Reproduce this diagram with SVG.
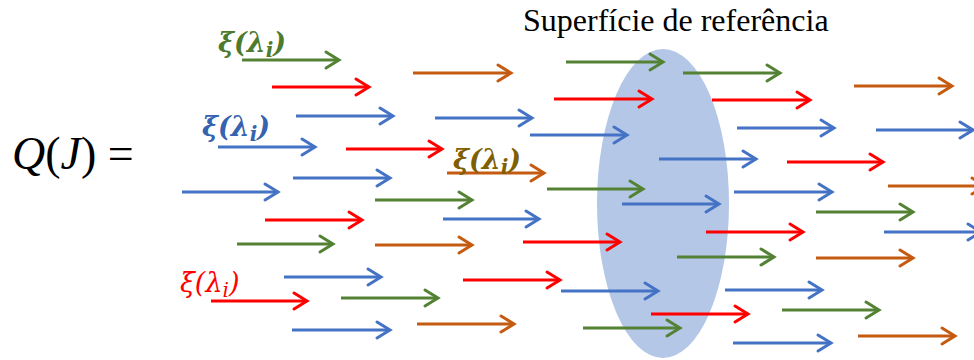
<svg xmlns="http://www.w3.org/2000/svg" width="974" height="360" viewBox="0 0 974 360">
<style>
.a{fill:none;stroke-width:3}
.g{stroke:#548235;marker-end:url(#mg)}
.r{stroke:#FF0000;marker-end:url(#mr)}
.b{stroke:#4472C4;marker-end:url(#mb)}
.o{stroke:#C55A11;marker-end:url(#mo)}
.lbl{font-family:"DejaVu Serif","Liberation Serif",serif;font-style:italic;font-weight:bold;font-size:27px}
</style>
<defs>
<marker id="mg" markerUnits="userSpaceOnUse" viewBox="-16 -10 20 20" markerWidth="20" markerHeight="20" refX="0" refY="0" orient="auto" overflow="visible"><path d="M-13,-8 L0,0 L-13,8" fill="none" stroke="#548235" stroke-width="3" stroke-linecap="round"/></marker>
<marker id="mr" markerUnits="userSpaceOnUse" viewBox="-16 -10 20 20" markerWidth="20" markerHeight="20" refX="0" refY="0" orient="auto" overflow="visible"><path d="M-13,-8 L0,0 L-13,8" fill="none" stroke="#FF0000" stroke-width="3" stroke-linecap="round"/></marker>
<marker id="mb" markerUnits="userSpaceOnUse" viewBox="-16 -10 20 20" markerWidth="20" markerHeight="20" refX="0" refY="0" orient="auto" overflow="visible"><path d="M-13,-8 L0,0 L-13,8" fill="none" stroke="#4472C4" stroke-width="3" stroke-linecap="round"/></marker>
<marker id="mo" markerUnits="userSpaceOnUse" viewBox="-16 -10 20 20" markerWidth="20" markerHeight="20" refX="0" refY="0" orient="auto" overflow="visible"><path d="M-13,-8 L0,0 L-13,8" fill="none" stroke="#C55A11" stroke-width="3" stroke-linecap="round"/></marker>
</defs>
<rect width="974" height="360" fill="#FFFFFF"/>
<g id="surface">
<ellipse cx="663" cy="203.5" rx="66" ry="154.5" fill="#B4C7E7"/>
<text x="523" y="31" font-family="'Liberation Serif','Times New Roman',serif" font-size="32" fill="#000">Superfície de referência</text>
</g>
<g id="equation">
<text x="12" y="169" font-family="'Liberation Serif','DejaVu Serif',serif" font-size="46" fill="#000"><tspan font-style="italic">Q</tspan>(<tspan font-style="italic">J</tspan>) =</text>
</g>
<g id="connectors">
<line class="a g" x1="242" y1="60" x2="339" y2="60"/>
<line class="a g" x1="566" y1="62" x2="663" y2="62"/>
<line class="a g" x1="683" y1="73" x2="780" y2="73"/>
<line class="a g" x1="375" y1="200" x2="472" y2="200"/>
<line class="a g" x1="547" y1="189" x2="643" y2="189"/>
<line class="a g" x1="237" y1="244" x2="333" y2="244"/>
<line class="a g" x1="816" y1="212" x2="913" y2="212"/>
<line class="a g" x1="677" y1="257" x2="774" y2="257"/>
<line class="a g" x1="341" y1="298" x2="438" y2="298"/>
<line class="a g" x1="782" y1="310" x2="879" y2="310"/>
<line class="a g" x1="583" y1="328" x2="680" y2="328"/>
<line class="a r" x1="272" y1="87" x2="369" y2="87"/>
<line class="a r" x1="554" y1="99" x2="652" y2="99"/>
<line class="a r" x1="712" y1="100" x2="810" y2="100"/>
<line class="a r" x1="346" y1="149" x2="442" y2="149"/>
<line class="a r" x1="787" y1="162" x2="883" y2="162"/>
<line class="a r" x1="265" y1="220" x2="362" y2="220"/>
<line class="a r" x1="706" y1="232" x2="803" y2="232"/>
<line class="a r" x1="523" y1="242" x2="620" y2="242"/>
<line class="a r" x1="463" y1="280" x2="560" y2="280"/>
<line class="a r" x1="211" y1="301" x2="307" y2="301"/>
<line class="a r" x1="651" y1="314" x2="748" y2="314"/>
<line class="a b" x1="296" y1="116" x2="393" y2="116"/>
<line class="a b" x1="435" y1="118" x2="532" y2="118"/>
<line class="a b" x1="737" y1="128" x2="834" y2="128"/>
<line class="a b" x1="876" y1="130" x2="973" y2="130"/>
<line class="a b" x1="218" y1="147" x2="315" y2="147"/>
<line class="a b" x1="530" y1="135" x2="627" y2="135"/>
<line class="a b" x1="659" y1="159" x2="756" y2="159"/>
<line class="a b" x1="293" y1="178" x2="390" y2="178"/>
<line class="a b" x1="182" y1="192" x2="278" y2="192"/>
<line class="a b" x1="734" y1="192" x2="832" y2="192"/>
<line class="a b" x1="622" y1="204" x2="719" y2="204"/>
<line class="a b" x1="443" y1="219" x2="539" y2="219"/>
<line class="a b" x1="884" y1="232" x2="981" y2="232"/>
<line class="a b" x1="284" y1="277" x2="381" y2="277"/>
<line class="a b" x1="561" y1="291" x2="658" y2="291"/>
<line class="a b" x1="725" y1="290" x2="822" y2="290"/>
<line class="a b" x1="292" y1="330" x2="390" y2="330"/>
<line class="a b" x1="733" y1="343" x2="831" y2="343"/>
<line class="a o" x1="413" y1="73" x2="511" y2="73"/>
<line class="a o" x1="854" y1="86" x2="952" y2="86"/>
<line class="a o" x1="447" y1="173" x2="544" y2="173"/>
<line class="a o" x1="888" y1="186" x2="985" y2="186"/>
<line class="a o" x1="375" y1="245" x2="472" y2="245"/>
<line class="a o" x1="816" y1="258" x2="913" y2="258"/>
<line class="a o" x1="417" y1="324" x2="514" y2="324"/>
<line class="a o" x1="858" y1="336" x2="955" y2="336"/>
</g>
<g id="label-green">
<text class="lbl" x="218" y="52" fill="#4E7A2E">ξ(λ<tspan dy="5" font-size="20">i</tspan><tspan dy="-5">)</tspan></text>
</g>
<g id="label-blue">
<text class="lbl" x="202" y="136" fill="#3563B0">ξ(λ<tspan dy="5" font-size="20">i</tspan><tspan dy="-5">)</tspan></text>
</g>
<g id="label-olive">
<text class="lbl" x="453" y="169" fill="#7F6000">ξ(λ<tspan dy="5" font-size="20">i</tspan><tspan dy="-5">)</tspan></text>
</g>
<g id="label-red">
<text class="lbl" x="180" y="292" fill="#FF0000" style="font-weight:normal">ξ(λ<tspan dy="5" font-size="20">i</tspan><tspan dy="-5">)</tspan></text>
</g>
</svg>
